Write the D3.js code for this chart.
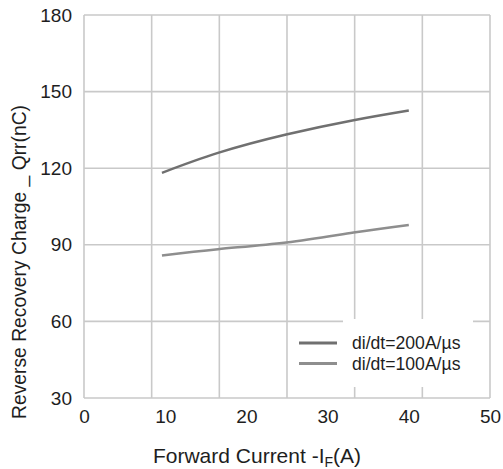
<!DOCTYPE html>
<html><head><meta charset="utf-8">
<script src="https://cdn.jsdelivr.net/npm/d3@7"></script>
<style>html,body{margin:0;padding:0;background:#fff;}svg{display:block;font-family:"Liberation Sans",Arial,sans-serif;}</style>
</head><body>
<script>
const xTicks = [0, 10, 20, 30, 40, 50];
const yTicks = [30, 60, 90, 120, 150, 180];
const seriesNames = ["di/dt=200A/µs", "di/dt=100A/µs"];
const xValues = [9.6, 16.5, 24.9, 33.2, 40];
const q200 = [118.2, 126.0, 133.2, 138.8, 142.6];
const q100 = [85.8, 88.3, 90.9, 94.8, 97.8];
const colors = ["#707070", "#8e8e8e"];

const W = 503, H = 469;
const svg = d3.select("body").append("svg").attr("width", W).attr("height", H);
const x = d3.scaleLinear().domain([0, 50]).range([84, 490]);
const y = d3.scaleLinear().domain([30, 180]).range([398, 15]);
const grid = "#c9c9c9";

// vertical grid: 6 equal divisions of the frame
const vg = d3.range(0, 7).map(i => i * 50 / 6);
svg.append("g").selectAll("line").data(vg).join("line")
  .attr("x1", d => x(d)).attr("x2", d => x(d)).attr("y1", y(180)).attr("y2", y(30))
  .attr("stroke", grid).attr("stroke-width", 1.6);
svg.append("g").selectAll("line").data(yTicks).join("line")
  .attr("x1", x(0)).attr("x2", x(50)).attr("y1", d => y(d)).attr("y2", d => y(d))
  .attr("stroke", grid).attr("stroke-width", 1.6);

// axes (labels only)
const xa = svg.append("g").attr("transform", `translate(0,${y(30)})`)
  .call(d3.axisBottom(x).tickValues(xTicks).tickSize(0).tickPadding(12));
xa.select(".domain").remove();
xa.selectAll("text").attr("font-size", 19).attr("fill", "#1e1e1e").attr("font-family", "Liberation Sans, Arial, sans-serif");
const ya = svg.append("g").attr("transform", `translate(${x(0)},0)`)
  .call(d3.axisLeft(y).tickValues(yTicks).tickSize(0).tickPadding(12));
ya.select(".domain").remove();
ya.selectAll("text").attr("font-size", 19).attr("fill", "#1e1e1e").attr("font-family", "Liberation Sans, Arial, sans-serif");

// lines
const line = d3.line().x(d => x(d[0])).y(d => y(d[1])).curve(d3.curveNatural);
[q200, q100].forEach((s, i) => {
  svg.append("path").datum(xValues.map((v, j) => [v, s[j]]))
    .attr("d", line).attr("fill", "none").attr("stroke", colors[i]).attr("stroke-width", 2.5);
});

// legend
svg.append("rect").attr("x", 343).attr("y", 319).attr("width", 130).attr("height", 68).attr("fill", "#fff");
const lg = svg.append("g");
seriesNames.forEach((n, i) => {
  const yy = 343 + i * 20.5;
  lg.append("line").attr("x1", 299).attr("x2", 337).attr("y1", yy).attr("y2", yy)
    .attr("stroke", colors[i]).attr("stroke-width", 3);
  lg.append("text").attr("x", 352).attr("y", yy + 6).attr("font-size", 17.6).attr("fill", "#1e1e1e").text(n);
});

// axis titles
const xt = svg.append("text").attr("x", 257).attr("y", 463).attr("text-anchor", "middle")
  .attr("font-size", 21).attr("fill", "#1e1e1e");
xt.append("tspan").text("Forward Current -I");
xt.append("tspan").attr("font-size", 14).attr("dy", 4).text("F");
xt.append("tspan").attr("dy", -4).text("(A)");
svg.append("text").attr("transform", "translate(26,262) rotate(-90)").attr("text-anchor", "middle")
  .attr("font-size", 19.3).attr("fill", "#1e1e1e").text("Reverse Recovery Charge _ Qrr(nC)");
</script>
</body></html>
